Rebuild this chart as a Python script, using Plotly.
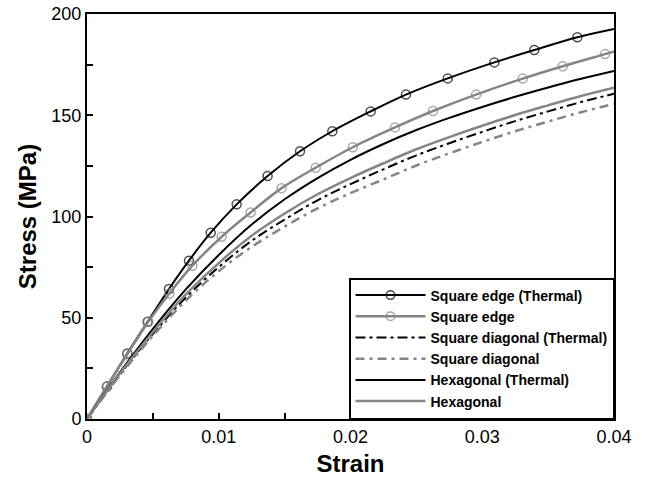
import plotly.graph_objects as go

# ---- data (strain, stress in MPa) ----
se_th_strain = [0, 0.00152, 0.00306, 0.0046, 0.00622, 0.00774, 0.00939, 0.01136, 0.01371,
                0.01617, 0.01862, 0.02153, 0.02421, 0.02738, 0.03092, 0.03395, 0.03722, 0.04]
se_th_stress = [0, 16, 32.4, 48, 64.2, 78.2, 92, 106, 120,
                132.2, 142.1, 151.9, 160.2, 168.2, 176.1, 182.2, 188.5, 192.6]

se_strain = [0, 0.00149, 0.00306, 0.00465, 0.00625, 0.0080, 0.01022, 0.01242, 0.01477,
             0.01736, 0.02017, 0.02338, 0.02626, 0.02953, 0.03307, 0.03611, 0.03932, 0.04]
se_stress = [0, 16, 32, 48, 62, 75.7, 90, 102, 114,
             124.1, 134.2, 144, 152.1, 160.2, 168.1, 174.2, 180.2, 181.5]

grid_strain = [0, 0.0025, 0.005, 0.0075, 0.01, 0.0125, 0.015, 0.0175, 0.02,
               0.0225, 0.025, 0.0275, 0.03, 0.0325, 0.035, 0.0375, 0.04]
sd_th_stress = [0, 22, 42, 60, 75, 88, 98.5, 108, 116,
                123.3, 130.2, 136.2, 141.8, 147.1, 151.9, 156.5, 160.6]
sd_stress = [0, 21.5, 41, 58.5, 73, 85, 95, 104, 111.5,
             118.3, 125.2, 131.2, 136.8, 142.1, 146.9, 151.5, 155.6]
hex_th_stress = [0, 23, 44.5, 64, 81, 96, 108.5, 119, 128,
                 135.8, 142.7, 148.7, 154.1, 159.1, 163.7, 168, 171.9]
hex_stress = [0, 22.5, 43, 61.5, 77, 90.5, 101.5, 111, 119,
              126.3, 133.2, 139.2, 144.8, 150.1, 154.9, 159.5, 163.6]

names = ["Square edge (Thermal)", "Square edge", "Square diagonal (Thermal)",
         "Square diagonal", "Hexagonal (Thermal)", "Hexagonal"]

x_ticks = [0, 0.01, 0.02, 0.03, 0.04]
y_ticks = [0, 50, 100, 150, 200]

BLACK = "#000000"
GRAY = "#858585"
FONT = "Liberation Sans, Arial, sans-serif"

fig = go.Figure()

def msizes(n):
    return [9] * (n - 1) + [0]

fig.add_trace(go.Scatter(x=se_th_strain, y=se_th_stress, name=names[0], mode="lines+markers",
                         line=dict(color=BLACK, width=2, shape="spline"),
                         marker=dict(symbol="circle-open", size=msizes(len(se_th_strain)),
                                     color=BLACK, line=dict(width=1.5))))
fig.add_trace(go.Scatter(x=se_strain, y=se_stress, name=names[1], mode="lines+markers",
                         line=dict(color=GRAY, width=2.5, shape="spline"),
                         marker=dict(symbol="circle-open", size=msizes(len(se_strain)),
                                     color=GRAY, line=dict(width=1.5))))
fig.add_trace(go.Scatter(x=grid_strain, y=sd_th_stress, name=names[2], mode="lines",
                         line=dict(color=BLACK, width=2, shape="spline", dash="10px,4px,3px,4px")))
fig.add_trace(go.Scatter(x=grid_strain, y=sd_stress, name=names[3], mode="lines",
                         line=dict(color=GRAY, width=2.5, shape="spline", dash="9px,5px,3px,5px")))
fig.add_trace(go.Scatter(x=grid_strain, y=hex_th_stress, name=names[4], mode="lines",
                         line=dict(color=BLACK, width=2, shape="spline")))
fig.add_trace(go.Scatter(x=grid_strain, y=hex_stress, name=names[5], mode="lines",
                         line=dict(color=GRAY, width=2.5, shape="spline")))

axis_common = dict(showgrid=False, zeroline=False, showline=True, linecolor=BLACK, linewidth=2,
                   mirror=True, ticks="inside", ticklen=6, tickwidth=1.5, tickcolor=BLACK,
                   tickfont=dict(family=FONT, size=18, color=BLACK))

fig.update_xaxes(range=[0, 0.04], tickvals=x_ticks, ticktext=[("%g" % v) for v in x_ticks],
                 minor=dict(dtick=0.005, ticks="inside", ticklen=6, tickwidth=1.5, tickcolor=BLACK),
                 title=dict(text="<b>Strain</b>", font=dict(family=FONT, size=24, color=BLACK), standoff=10),
                 **axis_common)
fig.update_yaxes(range=[0, 200], tickvals=y_ticks,
                 minor=dict(dtick=25, ticks="inside", ticklen=6, tickwidth=1.5, tickcolor=BLACK),
                 title=dict(text="<b>Stress (MPa)</b>", font=dict(family=FONT, size=24, color=BLACK), standoff=8),
                 **axis_common)

fig.update_layout(
    width=650, height=479,
    margin=dict(l=87, r=36, t=14, b=60, autoexpand=False),
    paper_bgcolor="white", plot_bgcolor="white",
    font=dict(family=FONT, color=BLACK),
    showlegend=True,
    legend=dict(x=1, xanchor="right", y=0, yanchor="bottom",
                bgcolor="white", bordercolor=BLACK, borderwidth=1.5,
                font=dict(family=FONT, size=14, color=BLACK, weight="bold"),
                itemwidth=70, tracegroupgap=0, traceorder="normal"),
)

fig.write_html("out.html")
